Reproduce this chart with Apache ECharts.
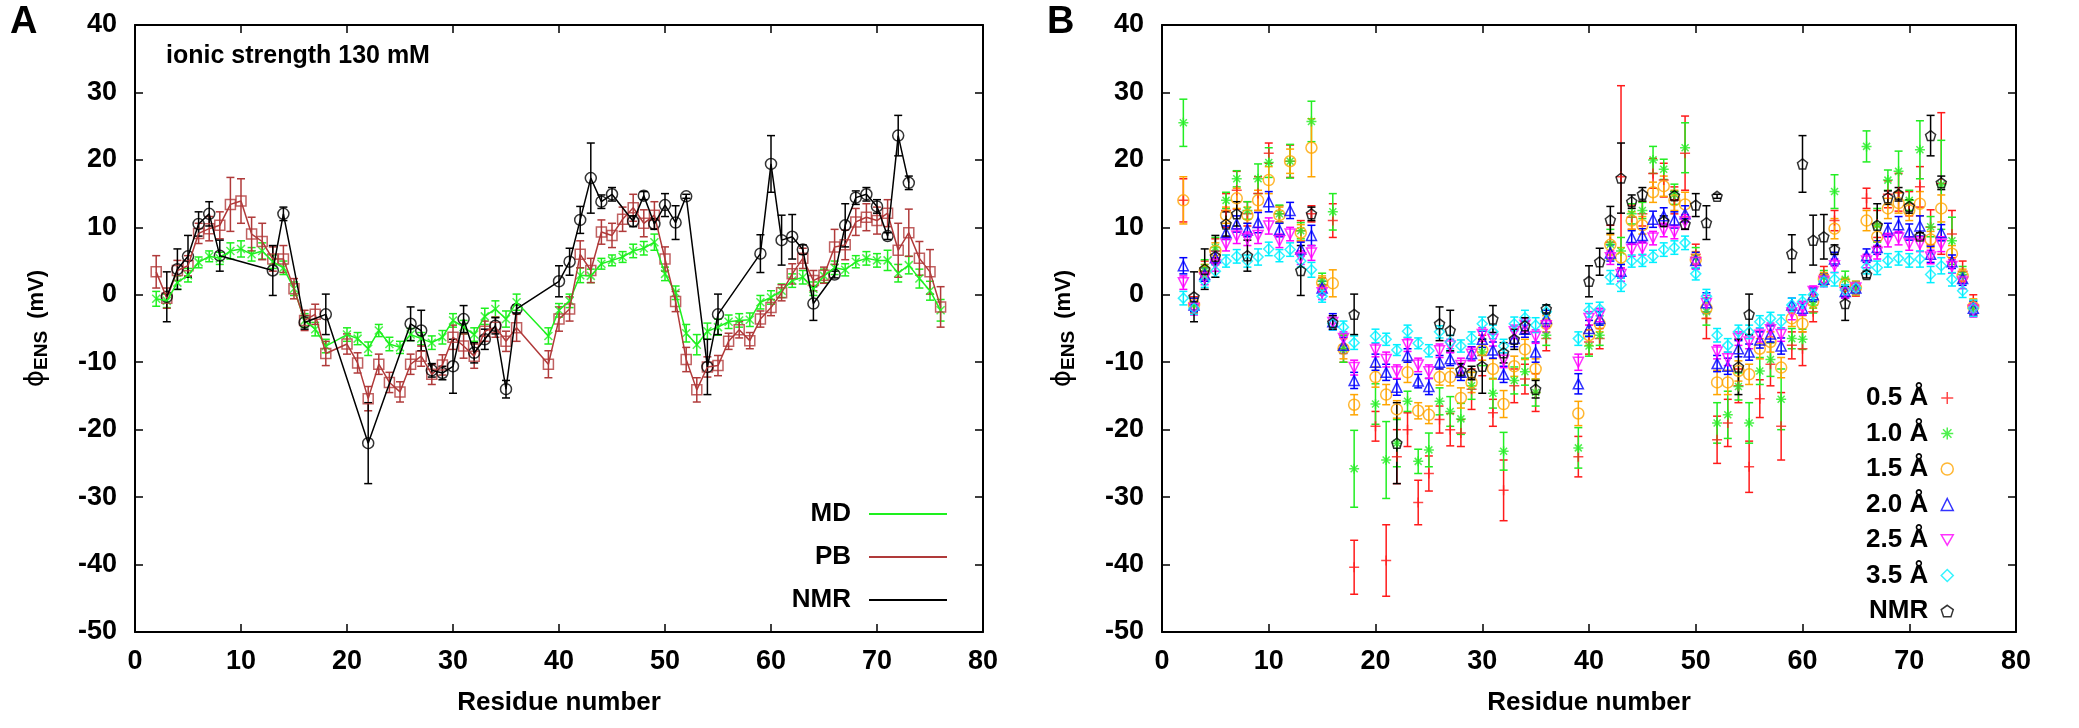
<!DOCTYPE html>
<html>
<head>
<meta charset="utf-8">
<script src="https://cdn.jsdelivr.net/npm/echarts@6/dist/echarts.min.js"></script>
<style>
  html, body { margin: 0; padding: 0; background: #fff; }
  #main { width: 2079px; height: 728px; }
</style>
</head>
<body>
<div id="main"></div>
<script>
// residues with simulated data (19, 37, 38 are missing)
var resB = [2,3,4,5,6,7,8,9,10,11,12,13,14,15,16,17,18,
  20,21,22,23,24,25,26,27,28,29,30,31,32,33,34,35,36,
  39,40,41,42,43,44,45,46,47,48,49,50,51,52,53,54,55,56,57,58,59,60,61,62,63,64,65,66,67,68,69,70,71,72,73,74,75,76];

// panel A : MD
var mdVal = [-0.6,-0.9,1.8,2.9,4.8,5.7,5.4,6.5,6.8,6.0,6.5,4.9,4.0,0.9,-3.8,-5.1,-7.6,
  -5.9,-6.5,-8.0,-5.3,-7.3,-7.8,-5.9,-6.5,-7.1,-6.3,-3.8,-4.8,-5.9,-3.2,-2.1,-3.6,-1.1,
  -6.1,-2.3,-0.9,2.9,2.8,4.6,5.1,5.6,6.5,6.9,7.8,3.1,0.3,-5.7,-7.4,-5.4,-4.8,-4.0,-3.8,-3.7,-1.1,-0.4,0.6,2.1,2.6,0.9,2.8,4.0,3.7,4.9,5.4,5.1,5.1,3.2,4.4,2.4,0.6,-2.3];
var mdErr = [1.1,1.0,1.0,1.0,0.8,0.8,0.9,1.2,1.2,1.0,1.2,1.0,1.0,1.0,1.0,1.0,1.0,
  1.0,0.9,1.0,0.9,1.0,0.9,0.9,0.9,1.0,1.0,1.0,1.0,1.0,1.2,1.2,1.2,1.2,
  1.2,1.0,1.0,1.1,1.0,0.8,0.8,0.8,1.0,1.0,1.2,1.0,1.0,1.3,1.5,1.2,1.2,1.0,1.0,1.0,1.0,1.0,1.0,1.0,1.0,1.0,1.0,1.0,0.9,0.9,1.0,1.0,1.5,1.3,1.3,1.4,1.4,1.6];

// panel A : PB
var pbVal = [3.4,-0.5,3.6,4.3,9.1,9.8,10.3,13.4,13.9,9.0,7.9,5.3,5.3,0.9,-3.8,-2.9,-8.7,
  -7.3,-10.1,-15.4,-10.3,-13.0,-14.4,-10.3,-9.1,-11.8,-10.4,-6.3,-7.6,-9.1,-5.4,-4.8,-6.9,-4.9,
  -10.3,-3.6,-2.1,6.0,3.6,9.3,8.8,11.2,12.9,10.6,11.8,5.3,-1.0,-9.6,-14.1,-10.7,-10.5,-6.9,-5.2,-6.8,-3.6,-1.9,0.3,3.1,5.4,2.1,2.9,7.1,7.4,10.8,11.5,11.0,12.1,6.6,9.2,5.4,3.4,-1.8];
var pbErr = [2.4,1.5,1.5,1.5,1.5,1.8,2.0,4.0,3.3,2.5,2.7,1.8,2.0,1.5,1.5,1.5,1.8,
  1.5,1.5,1.8,1.5,1.5,1.5,1.5,1.5,1.5,1.5,1.8,1.8,1.8,1.5,1.5,1.5,2.0,
  2.0,1.8,1.8,2.0,1.8,1.8,1.8,1.8,2.0,2.0,2.0,1.8,1.5,1.8,1.8,1.5,1.5,1.2,1.2,1.2,1.2,1.2,1.2,1.5,1.5,1.5,1.2,2.6,2.2,2.0,2.0,2.0,2.0,4.0,3.5,2.5,3.3,3.0];

// NMR (both panels)
var nmrRes = [3,4,5,6,7,8,13,14,16,18,22,26,27,28,29,30,31,32,33,34,35,36,40,41,42,43,44,45,47,48,49,50,51,52,54,55,59,60,61,62,63,64,66,67,68,69,70,71,72,73];
var nmrVal = [-0.3,3.8,5.7,10.5,12.0,5.8,3.6,12.0,-4.1,-2.9,-22.0,-4.3,-5.3,-11.2,-11.6,-10.6,-3.6,-8.6,-6.6,-4.6,-14.0,-2.1,2.0,4.9,11.1,17.3,13.8,14.9,10.9,14.7,10.5,13.3,10.7,14.6,-10.7,-2.9,6.1,19.4,8.1,8.6,6.7,-1.3,3.0,10.3,14.4,14.9,13.1,8.7,23.6,16.6];
var nmrErr = [3.7,3.0,3.1,1.8,1.8,2.3,3.7,1.0,1.0,3.0,6.0,2.5,3.0,1.0,1.0,4.0,2.0,1.5,1.5,1.2,1.3,0.6,2.3,2.0,2.0,5.2,1.0,1.0,0.8,0.6,0.8,1.7,2.5,0.3,4.1,3.0,2.8,4.2,3.7,3.3,0.7,2.5,0.5,3.2,1.0,1.0,1.0,0.5,3.0,1.0];

// panel B : probe radius series
var r05Val = [14.0,-1.5,3.5,6.5,12.5,15.5,12.0,15.0,21.0,12.0,19.8,9.5,12.0,1.5,11.0,-8.0,-40.4,
  -19.5,-39.4,-24.0,-20.0,-30.8,-26.5,-18.5,-20.0,-20.5,-14.0,-9.0,-17.5,-29.0,-13.5,-12.5,-14.5,-6.5,
  -24.0,-7.0,-6.5,7.8,17.5,11.5,12.0,18.0,17.0,14.0,21.0,6.0,-3.5,-21.5,-19.0,-13.5,-25.5,-15.4,-10.3,-19.5,-7.5,-8.0,-2.5,3.0,11.0,1.0,0.8,14.3,10.5,14.9,15.2,13.5,16.0,10.0,16.5,9.0,3.5,-1.5];
var r05Err = [3.2,1.2,1.5,1.8,2.5,2.8,1.8,2.5,1.5,1.2,2.4,1.5,1.2,1.0,2.5,2.0,4.0,
  2.2,5.3,4.0,2.5,3.3,2.6,2.0,2.4,2.0,3.0,3.0,2.0,4.5,2.5,2.2,2.8,1.8,
  3.0,1.8,1.5,2.5,13.5,1.8,1.8,2.2,2.5,2.0,5.5,1.5,3.0,3.5,3.5,2.5,3.8,2.8,3.2,5.0,2.0,2.5,1.5,1.2,1.5,1.3,1.0,1.5,2.0,2.0,2.8,1.8,3.0,2.6,10.5,3.5,1.5,1.5];
var r10Val = [25.5,-1.5,4.0,7.0,14.0,17.2,12.5,17.2,19.6,12.0,19.8,9.5,25.7,2.0,12.3,-8.0,-25.8,
  -16.2,-24.5,-22.0,-15.8,-24.7,-23.0,-15.8,-17.3,-18.4,-13.5,-8.5,-14.6,-23.2,-12.7,-11.4,-14.5,-6.0,
  -22.7,-7.6,-6.0,7.5,6.5,12.0,12.5,20.0,18.6,14.9,21.8,5.5,-2.5,-19.0,-17.8,-13.6,-19.0,-11.3,-9.6,-15.5,-6.5,-6.6,-1.5,2.6,15.3,2.3,1.0,22.0,10.3,17.0,18.3,14.0,21.5,10.1,16.3,8.0,3.0,-2.0];
var r10Err = [3.5,1.0,1.2,1.5,1.2,1.2,1.3,2.2,2.2,1.3,2.5,1.2,3.0,1.2,2.7,2.0,5.7,
  3.0,5.7,3.5,1.5,1.8,2.5,2.0,2.2,2.3,2.0,2.0,2.2,2.8,2.0,2.0,2.0,1.5,
  3.0,1.5,1.5,2.2,2.0,1.5,1.2,2.0,1.5,1.5,3.7,1.5,2.0,3.0,3.5,2.0,3.0,2.0,2.5,4.5,1.5,1.5,1.2,1.0,2.5,1.2,1.0,2.3,2.5,1.5,3.0,1.5,4.3,1.5,6.6,3.5,1.2,1.2];
var r15Val = [14.0,-1.5,3.5,6.5,11.8,14.3,11.8,14.0,17.0,11.8,19.8,9.2,21.8,1.8,1.7,-8.0,-16.3,
  -12.2,-14.8,-17.0,-11.5,-17.2,-17.8,-12.2,-12.2,-15.3,-13.0,-8.2,-11.0,-16.2,-10.6,-8.1,-11.0,-4.3,
  -17.6,-6.0,-4.3,7.4,5.5,11.0,10.3,15.2,16.1,14.0,13.4,5.2,-2.0,-13.0,-13.0,-11.3,-11.8,-8.0,-7.0,-10.8,-3.5,-4.3,-1.0,2.3,9.8,1.5,1.0,11.0,8.6,12.8,13.6,12.5,13.5,8.2,12.8,6.1,2.8,-1.8];
var r15Err = [3.5,1.0,1.0,1.2,1.2,1.5,1.2,1.5,2.0,1.2,1.8,1.2,4.3,1.0,2.0,1.5,1.5,
  1.5,1.5,1.3,1.5,1.2,1.3,1.2,1.3,1.5,1.5,1.5,1.5,2.0,1.5,1.5,1.5,1.2,
  1.8,1.5,1.2,1.5,1.5,1.3,1.3,1.5,1.5,1.5,1.8,1.2,1.5,1.8,1.8,1.5,1.5,1.5,1.5,1.5,1.2,1.2,1.0,1.0,1.5,1.0,1.0,1.5,1.5,1.5,1.5,1.5,1.8,1.2,2.0,1.2,1.0,1.2];
var r20Val = [4.3,-1.5,3.0,5.5,9.2,10.5,9.6,10.7,13.8,9.6,12.5,6.8,8.8,1.0,-4.0,-7.5,-12.7,
  -10.0,-11.5,-13.7,-9.0,-12.8,-13.6,-10.0,-9.5,-11.5,-8.7,-6.6,-8.2,-11.8,-6.5,-5.1,-8.5,-3.5,
  -13.2,-5.0,-3.5,6.2,3.5,8.5,8.8,11.2,11.7,11.1,12.0,5.1,-1.2,-10.2,-10.6,-8.0,-8.5,-6.7,-5.8,-7.6,-1.5,-2.0,0.0,2.3,5.3,0.5,1.0,5.8,7.0,9.6,10.4,9.3,10.2,6.0,9.2,4.9,2.4,-2.0];
var r20Err = [1.2,1.0,1.0,1.0,1.0,1.2,1.0,1.5,1.5,1.0,1.2,1.0,1.5,1.0,1.2,1.2,1.2,
  1.2,1.2,1.2,1.0,1.0,1.2,1.0,1.0,1.2,1.0,1.2,1.2,1.2,1.2,1.2,1.5,1.2,
  1.5,1.2,1.0,1.2,1.0,1.0,1.0,1.2,1.2,1.2,1.2,1.2,1.5,1.2,1.2,1.2,1.2,1.2,1.2,1.2,1.0,1.0,1.0,0.8,1.0,1.0,0.8,1.0,1.0,1.0,1.2,1.2,1.5,1.2,1.2,1.0,1.0,1.0];
var r25Val = [1.8,-2.0,2.5,4.5,7.5,8.7,8.3,8.8,10.2,8.0,9.0,5.5,6.2,0.3,-4.1,-6.5,-10.8,
  -8.2,-9.6,-11.4,-7.4,-10.4,-11.4,-8.3,-7.6,-10.5,-8.8,-5.9,-6.6,-9.7,-5.5,-4.5,-6.2,-4.6,
  -10.0,-3.5,-3.0,5.5,3.0,6.7,6.9,8.4,9.6,9.3,10.8,4.8,-1.3,-8.5,-9.5,-6.5,-7.0,-6.0,-5.2,-5.9,-2.7,-2.0,0.5,2.0,4.3,0.3,1.0,5.0,6.3,8.1,8.4,7.6,7.5,5.6,7.5,4.2,1.9,-2.3];
var r25Err = [1.0,1.0,1.0,1.0,1.0,1.1,1.0,1.2,1.2,1.0,1.0,1.0,1.1,1.0,1.0,1.0,1.1,
  1.0,1.1,1.0,1.0,1.0,1.0,1.0,1.0,1.1,1.0,1.0,1.0,1.1,1.0,1.0,1.0,1.0,
  1.2,1.0,1.0,1.0,1.0,1.0,1.0,1.0,1.0,1.0,1.1,1.0,1.2,1.0,1.0,1.0,1.0,1.0,1.0,1.0,1.0,1.0,0.8,0.8,1.0,0.8,0.8,1.0,1.0,1.0,1.0,1.0,1.1,1.0,1.1,1.0,1.0,1.0];
var r35Val = [-0.5,-2.0,2.0,3.5,5.0,5.7,5.0,5.6,6.8,5.8,6.7,5.0,3.7,-0.2,-4.3,-4.8,-7.1,
  -6.1,-6.6,-8.2,-5.4,-7.2,-8.3,-5.5,-7.0,-7.6,-6.4,-4.3,-5.5,-7.6,-4.3,-3.4,-4.5,-2.5,
  -6.5,-2.3,-2.1,2.6,1.5,5.0,5.1,5.7,6.7,7.0,7.7,3.1,-0.2,-6.0,-7.5,-5.5,-5.5,-4.0,-3.5,-4.0,-1.5,-1.0,0.0,2.0,2.3,0.7,1.0,4.1,4.0,5.1,5.4,5.1,5.3,3.0,4.3,2.3,0.6,-2.0];
var r35Err = [1.0,0.9,0.9,0.9,0.9,1.0,0.9,1.2,1.0,0.9,1.0,0.9,1.1,0.9,0.9,0.9,1.0,
  1.0,0.9,0.8,0.9,0.8,0.9,0.9,1.0,0.9,0.9,1.0,1.0,1.0,1.0,1.1,1.1,1.0,
  1.0,1.0,1.0,1.0,1.0,0.9,0.9,0.9,1.0,1.0,1.0,0.9,1.0,1.0,1.0,1.0,1.0,0.9,0.9,1.0,1.0,1.0,0.8,0.8,1.0,0.8,0.8,1.0,1.0,1.0,1.0,1.0,1.2,1.2,1.2,1.0,1.0,1.2];

var FONT = "'Liberation Sans', Arial, sans-serif";

var myChart = echarts.init(document.getElementById('main'));

function pairs(xs, ys) {
  return xs.map(function (x, i) { return [x, ys[i]]; });
}
function bars(xs, ys, es) {
  return xs.map(function (x, i) { return [x, ys[i] - es[i], ys[i] + es[i]]; });
}

// vertical error bars with small caps
function errSeries(idx, xs, ys, es, color) {
  return {
    type: 'custom',
    xAxisIndex: idx, yAxisIndex: idx,
    data: bars(xs, ys, es),
    encode: { x: 0, y: [1, 2] },
    silent: true,
    renderItem: function (params, api) {
      var lo = api.coord([api.value(0), api.value(1)]);
      var hi = api.coord([api.value(0), api.value(2)]);
      var w = 4;
      var st = { stroke: color, lineWidth: 1.5 };
      return {
        type: 'group',
        children: [
          { type: 'line', shape: { x1: lo[0], y1: lo[1], x2: hi[0], y2: hi[1] }, style: st },
          { type: 'line', shape: { x1: lo[0] - w, y1: lo[1], x2: lo[0] + w, y2: lo[1] }, style: st },
          { type: 'line', shape: { x1: hi[0] - w, y1: hi[1], x2: hi[0] + w, y2: hi[1] }, style: st }
        ]
      };
    }
  };
}

function markSeries(idx, name, xs, ys, color, symbol, size) {
  return {
    type: 'scatter',
    name: name,
    xAxisIndex: idx, yAxisIndex: idx,
    data: pairs(xs, ys),
    symbol: symbol,
    symbolSize: size,
    itemStyle: { color: 'rgba(0,0,0,0)', borderColor: color, borderWidth: 1.5 },
    silent: true
  };
}

function lineSeries(name, xs, ys, color) {
  return {
    type: 'line',
    name: name,
    xAxisIndex: 0, yAxisIndex: 0,
    data: pairs(xs, ys),
    symbol: 'none',
    lineStyle: { color: color, width: 1.5 },
    itemStyle: { color: color },
    silent: true
  };
}

var SYM_X = 'path://M0,0L10,10M10,0L0,10';
var SYM_PLUS = 'path://M0,5L10,5M5,0L5,10';
var SYM_STAR = 'path://M0,5L10,5M5,0L5,10M1.5,1.5L8.5,8.5M8.5,1.5L1.5,8.5';
var SYM_DOWN = 'path://M0,0L10,0L5,8.66Z';
var SYM_PENT = 'path://M5,0L9.76,3.45L7.94,9.05L2.06,9.05L0.24,3.45Z';

var cMD = '#1ef01e', cPB = '#b03a3a';
var radColors = ['#ff1a1a', '#22ee22', '#ffa500', '#0000ff', '#ff00ff', '#00f0ff'];

var labelStyle = { fontSize: 27, fontWeight: 'bold', color: '#000', fontFamily: FONT };
var nameStyle = { fontSize: 26, fontWeight: 'bold', color: '#000', fontFamily: FONT };

function xMain(grid) {
  return {
    type: 'value', gridIndex: grid, min: 0, max: 80, interval: 10,
    axisLine: { onZero: false, lineStyle: { color: '#000', width: 2 } },
    axisTick: { inside: true, length: 8, lineStyle: { color: '#000', width: 1.5 } },
    splitLine: { show: false },
    axisLabel: Object.assign({ margin: 16, showMinLabel: true, showMaxLabel: true }, labelStyle),
    name: 'Residue number', nameLocation: 'middle', nameGap: 58,
    nameTextStyle: nameStyle
  };
}
function xMirror(grid) {
  return {
    type: 'value', gridIndex: grid, position: 'top', min: 0, max: 80, interval: 10,
    axisLine: { onZero: false, lineStyle: { color: '#000', width: 2 } },
    axisTick: { inside: true, length: 8, lineStyle: { color: '#000', width: 1.5 } },
    splitLine: { show: false }, axisLabel: { show: false }
  };
}
function yMain(grid) {
  return {
    type: 'value', gridIndex: grid, min: -50, max: 40, interval: 10,
    axisLine: { onZero: false, lineStyle: { color: '#000', width: 2 } },
    axisTick: { inside: true, length: 8, lineStyle: { color: '#000', width: 1.5 } },
    splitLine: { show: false },
    axisLabel: Object.assign({ margin: 18, showMinLabel: true, showMaxLabel: true }, labelStyle),
    name: '{p|\u03D5}{s|ENS}{u|  (mV)}', nameLocation: 'middle', nameRotate: 90, nameGap: 84,
    nameTextStyle: {
      color: '#000', fontFamily: FONT,
      rich: {
        p: { fontSize: 26, fontFamily: "'DejaVu Sans', sans-serif", color: '#000' },
        s: { fontSize: 19, fontWeight: 'bold', fontFamily: FONT, color: '#000', padding: [10, 0, 0, 0] },
        u: { fontSize: 22, fontWeight: 'bold', fontFamily: FONT, color: '#000' }
      }
    }
  };
}
function yMirror(grid) {
  return {
    type: 'value', gridIndex: grid, position: 'right', min: -50, max: 40, interval: 10,
    axisLine: { onZero: false, lineStyle: { color: '#000', width: 2 } },
    axisTick: { inside: true, length: 8, lineStyle: { color: '#000', width: 1.5 } },
    splitLine: { show: false }, axisLabel: { show: false }
  };
}

var radNames = ['0.5 Å', '1.0 Å', '1.5 Å', '2.0 Å', '2.5 Å', '3.5 Å'];
var radVals = [r05Val, r10Val, r15Val, r20Val, r25Val, r35Val];
var radErrs = [r05Err, r10Err, r15Err, r20Err, r25Err, r35Err];
var radSyms = [SYM_PLUS, SYM_STAR, 'circle', 'triangle', SYM_DOWN, 'diamond'];
var radSizes = [10, 10, 11, 10, 10, 10];

var series = [
  errSeries(0, resB, mdVal, mdErr, cMD),
  lineSeries('MD', resB, mdVal, cMD),
  markSeries(0, 'MD pts', resB, mdVal, cMD, SYM_X, 8),
  errSeries(0, resB, pbVal, pbErr, cPB),
  lineSeries('PB', resB, pbVal, cPB),
  markSeries(0, 'PB pts', resB, pbVal, cPB, 'rect', 10),
  errSeries(0, nmrRes, nmrVal, nmrErr, '#000'),
  lineSeries('NMR', nmrRes, nmrVal, '#000'),
  markSeries(0, 'NMR pts', nmrRes, nmrVal, '#000', 'circle', 11)
];
for (var k = 0; k < radNames.length; k++) {
  series.push(errSeries(1, resB, radVals[k], radErrs[k], radColors[k]));
  series.push(markSeries(1, radNames[k], resB, radVals[k], radColors[k], radSyms[k], radSizes[k]));
}
series.push(errSeries(1, nmrRes, nmrVal, nmrErr, '#000'));
series.push(markSeries(1, 'NMR_B', nmrRes, nmrVal, '#000', SYM_PENT, 10));

var option = {
  backgroundColor: '#fff',
  animation: false,
  title: [
    { text: 'A', left: 10, top: 4, padding: 0, textStyle: { fontSize: 38, fontWeight: 'bold', color: '#000', fontFamily: FONT } },
    { text: 'B', left: 1047, top: 4, padding: 0, textStyle: { fontSize: 38, fontWeight: 'bold', color: '#000', fontFamily: FONT } },
    { text: 'ionic strength 130 mM', left: 166, top: 44, padding: 0, textStyle: { fontSize: 25, fontWeight: 'bold', color: '#000', fontFamily: FONT } }
  ],
  grid: [
    { left: 135, top: 25, width: 848, height: 607 },
    { left: 1162, top: 25, width: 854, height: 607 }
  ],
  xAxis: [xMain(0), xMain(1), xMirror(0), xMirror(1)],
  yAxis: [yMain(0), yMain(1), yMirror(0), yMirror(1)],
  legend: [
    {
      data: ['MD', 'PB', 'NMR'],
      orient: 'vertical', align: 'right', right: 1132, top: 500, padding: 0,
      icon: 'rect', itemWidth: 78, itemHeight: 2, itemGap: 15,
      selectedMode: false,
      textStyle: { fontSize: 26, fontWeight: 'bold', color: '#000', fontFamily: FONT, lineHeight: 28, padding: [0, 13, 0, 0] }
    },
    {
      data: radNames.concat(['NMR_B']),
      orient: 'vertical', align: 'right', right: 125, top: 384, padding: 0,
      itemWidth: 12, itemHeight: 12, itemGap: 7.5,
      selectedMode: false,
      itemStyle: { borderWidth: 1.5 },
      formatter: function (name) { return name === 'NMR_B' ? 'NMR' : name; },
      textStyle: { fontSize: 26, fontWeight: 'bold', color: '#000', fontFamily: FONT, lineHeight: 28, padding: [0, 8, 0, 0] }
    }
  ],
  series: series
};

myChart.setOption(option);
</script>
</body>
</html>
